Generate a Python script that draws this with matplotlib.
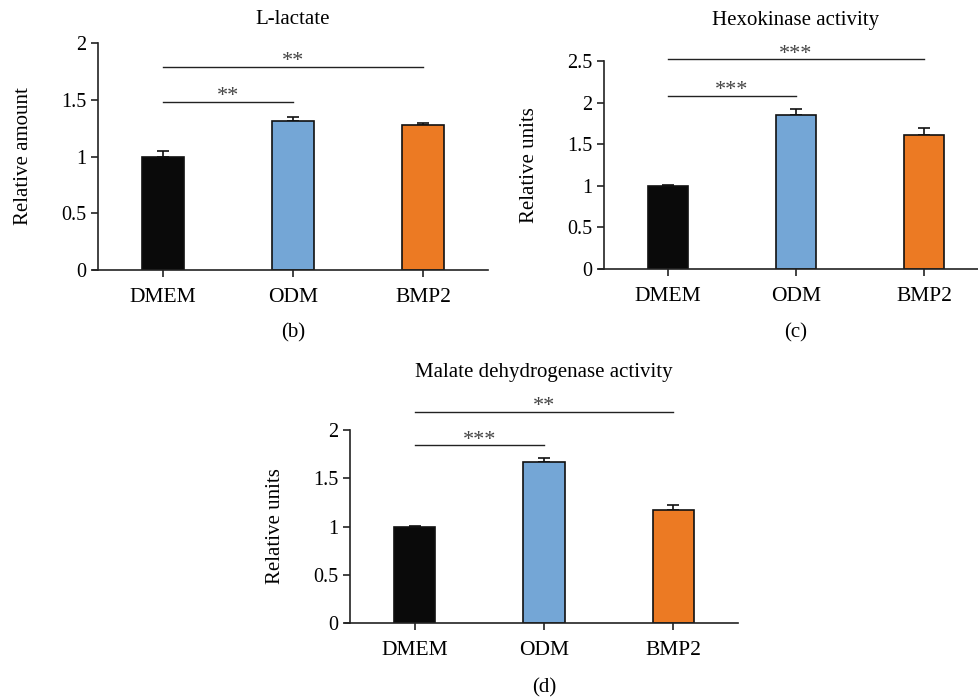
import numpy as np
import matplotlib
matplotlib.use("Agg")
import matplotlib.pyplot as plt

plt.rcParams['font.family'] = ['Liberation Serif', 'DejaVu Serif']

groups = ["DMEM", "ODM", "BMP2"]
colors = ["#0a0a0a", "#74a6d6", "#ec7a23"]

lactate_mean = [1.00, 1.315, 1.28]
lactate_err = [0.045, 0.035, 0.015]
lactate_sig = [(0, 1, 1.48, "**"), (0, 2, 1.79, "**")]

hk_mean = [1.00, 1.855, 1.615]
hk_err = [0.01, 0.065, 0.085]
hk_sig = [(0, 1, 2.08, "***"), (0, 2, 2.52, "***")]

mdh_mean = [1.00, 1.672, 1.167]
mdh_err = [0.01, 0.035, 0.052]
mdh_sig = [(0, 1, 1.84, "***"), (0, 2, 2.19, "**")]

W, H = 979, 699
fig = plt.figure(figsize=(W / 100, H / 100), dpi=100)


def make_axes(left, right, bottom, top):
    return fig.add_axes([left / W, 1 - bottom / H, (right - left) / W, (bottom - top) / H])


def panel(ax, means, errs, sigs, ymax, yticks, ylabel, title, letter, title_y, letter_y):
    x = np.arange(len(groups))
    ax.bar(x, means, width=0.32, color=colors, edgecolor="#111111", linewidth=1.2, zorder=2)
    ax.errorbar(x, means, yerr=[np.zeros(len(errs)), errs], fmt="none",
                ecolor="#111111", elinewidth=1.2, capsize=4, capthick=1.2, zorder=1)
    ax.set_xlim(-0.5, 2.5)
    ax.set_ylim(0, ymax)
    ax.set_yticks(yticks)
    ax.set_yticklabels([f"{t:g}" for t in yticks])
    ax.set_xticks(x)
    ax.set_xticklabels(groups, fontsize=15.5)
    for s in ["top", "right"]:
        ax.spines[s].set_visible(False)
    for s in ["left", "bottom"]:
        ax.spines[s].set_linewidth(1.2)
        ax.spines[s].set_color("#222222")
    ax.spines["bottom"].set_bounds(-0.54, 2.5)
    ax.tick_params(axis="both", direction="out", length=5, width=1.2, color="#222222")
    ax.tick_params(axis="y", labelsize=14.5)
    ax.tick_params(axis="x", pad=8)
    ax.set_ylabel(ylabel, fontsize=15, labelpad=20)
    for a, b, y, txt in sigs:
        ax.plot([a, b], [y, y], color="#222222", lw=1.0, clip_on=False)
        ax.annotate(txt, xy=((a + b) / 2, y), xytext=(0, 0.5), textcoords="offset points",
                    ha="center", va="baseline", fontsize=16, color="#444444",
                    annotation_clip=False)
    ax.text(1, title_y, title, transform=ax.get_xaxis_transform(), ha="center",
            va="center", fontsize=15)
    ax.text(1, letter_y, letter, transform=ax.get_xaxis_transform(), ha="center",
            va="center", fontsize=15)


ax_b = make_axes(98, 488, 270, 43)
panel(ax_b, lactate_mean, lactate_err, lactate_sig, 2.0, [0, 0.5, 1, 1.5, 2],
      "Relative amount", "L-lactate", "(b)", 1 + (43 - 20) / 227, -(333 - 270) / 227)

ax_c = make_axes(604, 988, 269, 61)
panel(ax_c, hk_mean, hk_err, hk_sig, 2.5, [0, 0.5, 1, 1.5, 2, 2.5],
      "Relative units", "Hexokinase activity", "(c)", 1 + (61 - 20) / 208, -(333 - 269) / 208)

ax_d = make_axes(350, 738, 623, 430)
panel(ax_d, mdh_mean, mdh_err, mdh_sig, 2.0, [0, 0.5, 1, 1.5, 2],
      "Relative units", "Malate dehydrogenase activity", "(d)", 1 + (430 - 372) / 193,
      -(688 - 623) / 193)

fig.savefig("out.png", dpi=100)
